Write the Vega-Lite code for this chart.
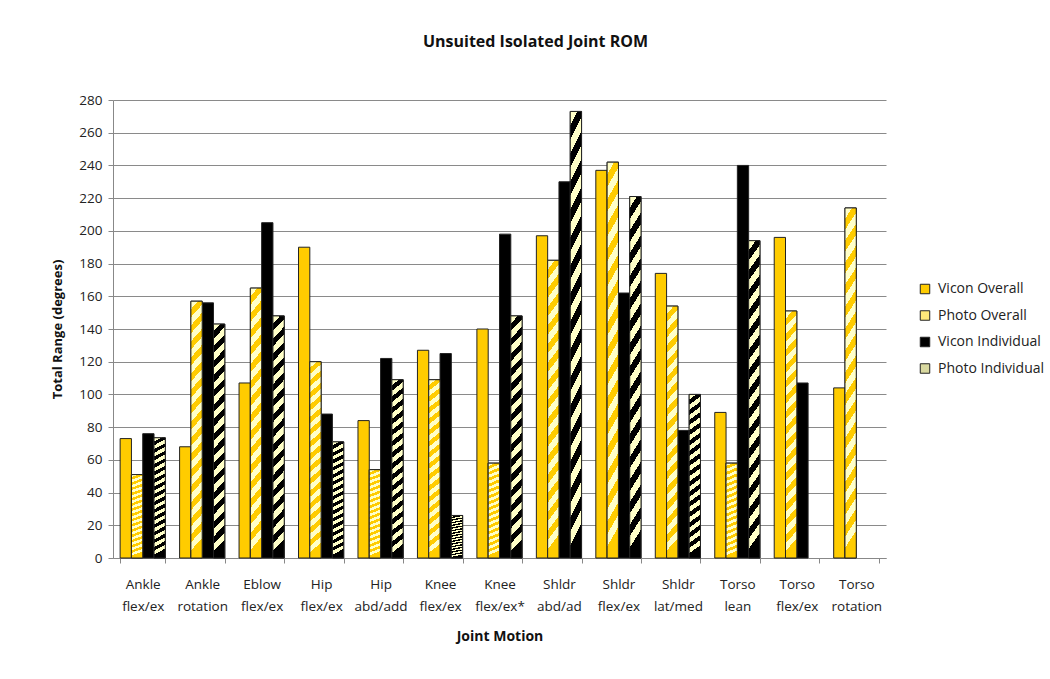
{
  "$schema": "https://vega.github.io/schema/vega-lite/v6.json",
  "autosize": {"type": "none"},
  "width": 773,
  "height": 458,
  "padding": {"left": 113, "top": 100, "right": 164, "bottom": 121},
  "background": "white",
  "title": {"text": "Unsuited Isolated Joint ROM", "font": "Open Sans", "fontSize": 16, "fontWeight": "bold", "color": "#111111", "offset": 43, "anchor": "middle", "dx": 36},
  "config": {"view": {"stroke": null}, "font": "Open Sans"},
  "data": {"values": [
    {"motion": "Ankle flex/ex", "series": "Vicon Overall", "value": 73},
    {"motion": "Ankle flex/ex", "series": "Photo Overall", "value": 51},
    {"motion": "Ankle flex/ex", "series": "Vicon Individual", "value": 76},
    {"motion": "Ankle flex/ex", "series": "Photo Individual", "value": 73.5},
    {"motion": "Ankle rotation", "series": "Vicon Overall", "value": 68},
    {"motion": "Ankle rotation", "series": "Photo Overall", "value": 157},
    {"motion": "Ankle rotation", "series": "Vicon Individual", "value": 156},
    {"motion": "Ankle rotation", "series": "Photo Individual", "value": 143},
    {"motion": "Eblow flex/ex", "series": "Vicon Overall", "value": 107},
    {"motion": "Eblow flex/ex", "series": "Photo Overall", "value": 165},
    {"motion": "Eblow flex/ex", "series": "Vicon Individual", "value": 205},
    {"motion": "Eblow flex/ex", "series": "Photo Individual", "value": 148},
    {"motion": "Hip flex/ex", "series": "Vicon Overall", "value": 190},
    {"motion": "Hip flex/ex", "series": "Photo Overall", "value": 120},
    {"motion": "Hip flex/ex", "series": "Vicon Individual", "value": 88},
    {"motion": "Hip flex/ex", "series": "Photo Individual", "value": 71},
    {"motion": "Hip abd/add", "series": "Vicon Overall", "value": 84},
    {"motion": "Hip abd/add", "series": "Photo Overall", "value": 54},
    {"motion": "Hip abd/add", "series": "Vicon Individual", "value": 122},
    {"motion": "Hip abd/add", "series": "Photo Individual", "value": 109},
    {"motion": "Knee flex/ex", "series": "Vicon Overall", "value": 127},
    {"motion": "Knee flex/ex", "series": "Photo Overall", "value": 109},
    {"motion": "Knee flex/ex", "series": "Vicon Individual", "value": 125},
    {"motion": "Knee flex/ex", "series": "Photo Individual", "value": 26},
    {"motion": "Knee flex/ex*", "series": "Vicon Overall", "value": 140},
    {"motion": "Knee flex/ex*", "series": "Photo Overall", "value": 58},
    {"motion": "Knee flex/ex*", "series": "Vicon Individual", "value": 198},
    {"motion": "Knee flex/ex*", "series": "Photo Individual", "value": 148},
    {"motion": "Shldr abd/ad", "series": "Vicon Overall", "value": 197},
    {"motion": "Shldr abd/ad", "series": "Photo Overall", "value": 182},
    {"motion": "Shldr abd/ad", "series": "Vicon Individual", "value": 230},
    {"motion": "Shldr abd/ad", "series": "Photo Individual", "value": 273},
    {"motion": "Shldr flex/ex", "series": "Vicon Overall", "value": 237},
    {"motion": "Shldr flex/ex", "series": "Photo Overall", "value": 242},
    {"motion": "Shldr flex/ex", "series": "Vicon Individual", "value": 162},
    {"motion": "Shldr flex/ex", "series": "Photo Individual", "value": 221},
    {"motion": "Shldr lat/med", "series": "Vicon Overall", "value": 174},
    {"motion": "Shldr lat/med", "series": "Photo Overall", "value": 154},
    {"motion": "Shldr lat/med", "series": "Vicon Individual", "value": 78},
    {"motion": "Shldr lat/med", "series": "Photo Individual", "value": 100},
    {"motion": "Torso lean", "series": "Vicon Overall", "value": 89},
    {"motion": "Torso lean", "series": "Photo Overall", "value": 58},
    {"motion": "Torso lean", "series": "Vicon Individual", "value": 240},
    {"motion": "Torso lean", "series": "Photo Individual", "value": 194},
    {"motion": "Torso flex/ex", "series": "Vicon Overall", "value": 196},
    {"motion": "Torso flex/ex", "series": "Photo Overall", "value": 151},
    {"motion": "Torso flex/ex", "series": "Vicon Individual", "value": 107},
    {"motion": "Torso rotation", "series": "Vicon Overall", "value": 104},
    {"motion": "Torso rotation", "series": "Photo Overall", "value": 214}
  ]},
  "encoding": {
    "x": {
      "field": "motion", "type": "nominal", "sort": null,
      "scale": {"paddingInner": 0.24, "paddingOuter": 0.12},
      "axis": {
        "title": "Joint Motion", "titleFont": "Open Sans", "titleFontSize": 14, "titleFontWeight": "bold", "titleColor": "#111111", "titlePadding": 17,
        "labelAngle": 0, "labelExpr": "split(datum.label, ' ')", "labelFontSize": 13.5, "labelColor": "#222222", "labelPadding": 14, "labelLineHeight": 22,
        "tickBand": "extent", "tickColor": "#888888", "tickSize": 5, "domainColor": "#888888", "grid": false
      }
    },
    "xOffset": {"field": "series", "type": "nominal", "scale": {"domain": ["Vicon Overall", "Photo Overall", "Vicon Individual", "Photo Individual"], "paddingInner": 0, "paddingOuter": 0}},
    "y": {
      "field": "value", "type": "quantitative",
      "scale": {"domain": [0, 280], "nice": false},
      "axis": {
        "title": "Total Range (degrees)", "titleFont": "Open Sans", "titleFontSize": 13, "titleFontWeight": "bold", "titleColor": "#111111", "titlePadding": 14,
        "values": [0, 20, 40, 60, 80, 100, 120, 140, 160, 180, 200, 220, 240, 260, 280],
        "labelFontSize": 13.5, "labelColor": "#222222", "labelPadding": 6,
        "tickColor": "#888888", "tickSize": 5, "domainColor": "#888888",
        "gridColor": "#8a8a8a", "gridWidth": 1
      }
    }
  },
  "layer": [
    {
      "mark": {"type": "bar", "stroke": "#222222", "strokeWidth": 1},
      "encoding": {
        "color": {
          "field": "series", "type": "nominal",
          "scale": {
            "domain": ["Vicon Overall", "Photo Overall", "Vicon Individual", "Photo Individual"],
            "range": ["#FFCC00", "#FFE97A", "#000000", "#D9D9A0"]
          },
          "legend": {
            "title": null, "orient": "none", "legendX": 805, "legendY": 182,
            "symbolType": "square", "symbolSize": 90, "symbolStrokeColor": "#222222", "symbolStrokeWidth": 1,
            "labelFontSize": 14, "labelColor": "#222222", "rowPadding": 12.5, "labelOffset": 6
          }
        }
      }
    },
    {
      "transform": [{"filter": "datum.series === 'Photo Overall' || datum.series === 'Photo Individual'"}],
      "mark": {"type": "bar", "stroke": "#222222", "strokeWidth": 1},
      "encoding": {
        "fill": {
          "condition": {"test": "datum.series === 'Photo Overall'", "value": {"gradient": "linear", "x1": 0, "y1": 0, "x2": 0.05, "y2": 1, "stops": [
            {"offset": 0, "color": "#FFFFC8"}, {"offset": 0.03125, "color": "#FFFFC8"}, {"offset": 0.03125, "color": "#FFCC00"}, {"offset": 0.0625, "color": "#FFCC00"},
            {"offset": 0.0625, "color": "#FFFFC8"}, {"offset": 0.09375, "color": "#FFFFC8"}, {"offset": 0.09375, "color": "#FFCC00"}, {"offset": 0.125, "color": "#FFCC00"},
            {"offset": 0.125, "color": "#FFFFC8"}, {"offset": 0.15625, "color": "#FFFFC8"}, {"offset": 0.15625, "color": "#FFCC00"}, {"offset": 0.1875, "color": "#FFCC00"},
            {"offset": 0.1875, "color": "#FFFFC8"}, {"offset": 0.21875, "color": "#FFFFC8"}, {"offset": 0.21875, "color": "#FFCC00"}, {"offset": 0.25, "color": "#FFCC00"},
            {"offset": 0.25, "color": "#FFFFC8"}, {"offset": 0.28125, "color": "#FFFFC8"}, {"offset": 0.28125, "color": "#FFCC00"}, {"offset": 0.3125, "color": "#FFCC00"},
            {"offset": 0.3125, "color": "#FFFFC8"}, {"offset": 0.34375, "color": "#FFFFC8"}, {"offset": 0.34375, "color": "#FFCC00"}, {"offset": 0.375, "color": "#FFCC00"},
            {"offset": 0.375, "color": "#FFFFC8"}, {"offset": 0.40625, "color": "#FFFFC8"}, {"offset": 0.40625, "color": "#FFCC00"}, {"offset": 0.4375, "color": "#FFCC00"},
            {"offset": 0.4375, "color": "#FFFFC8"}, {"offset": 0.46875, "color": "#FFFFC8"}, {"offset": 0.46875, "color": "#FFCC00"}, {"offset": 0.5, "color": "#FFCC00"},
            {"offset": 0.5, "color": "#FFFFC8"}, {"offset": 0.53125, "color": "#FFFFC8"}, {"offset": 0.53125, "color": "#FFCC00"}, {"offset": 0.5625, "color": "#FFCC00"},
            {"offset": 0.5625, "color": "#FFFFC8"}, {"offset": 0.59375, "color": "#FFFFC8"}, {"offset": 0.59375, "color": "#FFCC00"}, {"offset": 0.625, "color": "#FFCC00"},
            {"offset": 0.625, "color": "#FFFFC8"}, {"offset": 0.65625, "color": "#FFFFC8"}, {"offset": 0.65625, "color": "#FFCC00"}, {"offset": 0.6875, "color": "#FFCC00"},
            {"offset": 0.6875, "color": "#FFFFC8"}, {"offset": 0.71875, "color": "#FFFFC8"}, {"offset": 0.71875, "color": "#FFCC00"}, {"offset": 0.75, "color": "#FFCC00"},
            {"offset": 0.75, "color": "#FFFFC8"}, {"offset": 0.78125, "color": "#FFFFC8"}, {"offset": 0.78125, "color": "#FFCC00"}, {"offset": 0.8125, "color": "#FFCC00"},
            {"offset": 0.8125, "color": "#FFFFC8"}, {"offset": 0.84375, "color": "#FFFFC8"}, {"offset": 0.84375, "color": "#FFCC00"}, {"offset": 0.875, "color": "#FFCC00"},
            {"offset": 0.875, "color": "#FFFFC8"}, {"offset": 0.90625, "color": "#FFFFC8"}, {"offset": 0.90625, "color": "#FFCC00"}, {"offset": 0.9375, "color": "#FFCC00"},
            {"offset": 0.9375, "color": "#FFFFC8"}, {"offset": 0.96875, "color": "#FFFFC8"}, {"offset": 0.96875, "color": "#FFCC00"}, {"offset": 1, "color": "#FFCC00"}
          ]}},
          "value": {"gradient": "linear", "x1": 0, "y1": 0, "x2": 0.05, "y2": 1, "stops": [
            {"offset": 0, "color": "#FFFFC8"}, {"offset": 0.03125, "color": "#FFFFC8"}, {"offset": 0.03125, "color": "#000000"}, {"offset": 0.0625, "color": "#000000"},
            {"offset": 0.0625, "color": "#FFFFC8"}, {"offset": 0.09375, "color": "#FFFFC8"}, {"offset": 0.09375, "color": "#000000"}, {"offset": 0.125, "color": "#000000"},
            {"offset": 0.125, "color": "#FFFFC8"}, {"offset": 0.15625, "color": "#FFFFC8"}, {"offset": 0.15625, "color": "#000000"}, {"offset": 0.1875, "color": "#000000"},
            {"offset": 0.1875, "color": "#FFFFC8"}, {"offset": 0.21875, "color": "#FFFFC8"}, {"offset": 0.21875, "color": "#000000"}, {"offset": 0.25, "color": "#000000"},
            {"offset": 0.25, "color": "#FFFFC8"}, {"offset": 0.28125, "color": "#FFFFC8"}, {"offset": 0.28125, "color": "#000000"}, {"offset": 0.3125, "color": "#000000"},
            {"offset": 0.3125, "color": "#FFFFC8"}, {"offset": 0.34375, "color": "#FFFFC8"}, {"offset": 0.34375, "color": "#000000"}, {"offset": 0.375, "color": "#000000"},
            {"offset": 0.375, "color": "#FFFFC8"}, {"offset": 0.40625, "color": "#FFFFC8"}, {"offset": 0.40625, "color": "#000000"}, {"offset": 0.4375, "color": "#000000"},
            {"offset": 0.4375, "color": "#FFFFC8"}, {"offset": 0.46875, "color": "#FFFFC8"}, {"offset": 0.46875, "color": "#000000"}, {"offset": 0.5, "color": "#000000"},
            {"offset": 0.5, "color": "#FFFFC8"}, {"offset": 0.53125, "color": "#FFFFC8"}, {"offset": 0.53125, "color": "#000000"}, {"offset": 0.5625, "color": "#000000"},
            {"offset": 0.5625, "color": "#FFFFC8"}, {"offset": 0.59375, "color": "#FFFFC8"}, {"offset": 0.59375, "color": "#000000"}, {"offset": 0.625, "color": "#000000"},
            {"offset": 0.625, "color": "#FFFFC8"}, {"offset": 0.65625, "color": "#FFFFC8"}, {"offset": 0.65625, "color": "#000000"}, {"offset": 0.6875, "color": "#000000"},
            {"offset": 0.6875, "color": "#FFFFC8"}, {"offset": 0.71875, "color": "#FFFFC8"}, {"offset": 0.71875, "color": "#000000"}, {"offset": 0.75, "color": "#000000"},
            {"offset": 0.75, "color": "#FFFFC8"}, {"offset": 0.78125, "color": "#FFFFC8"}, {"offset": 0.78125, "color": "#000000"}, {"offset": 0.8125, "color": "#000000"},
            {"offset": 0.8125, "color": "#FFFFC8"}, {"offset": 0.84375, "color": "#FFFFC8"}, {"offset": 0.84375, "color": "#000000"}, {"offset": 0.875, "color": "#000000"},
            {"offset": 0.875, "color": "#FFFFC8"}, {"offset": 0.90625, "color": "#FFFFC8"}, {"offset": 0.90625, "color": "#000000"}, {"offset": 0.9375, "color": "#000000"},
            {"offset": 0.9375, "color": "#FFFFC8"}, {"offset": 0.96875, "color": "#FFFFC8"}, {"offset": 0.96875, "color": "#000000"}, {"offset": 1, "color": "#000000"}
          ]}
        }
      }
    }
  ]
}
